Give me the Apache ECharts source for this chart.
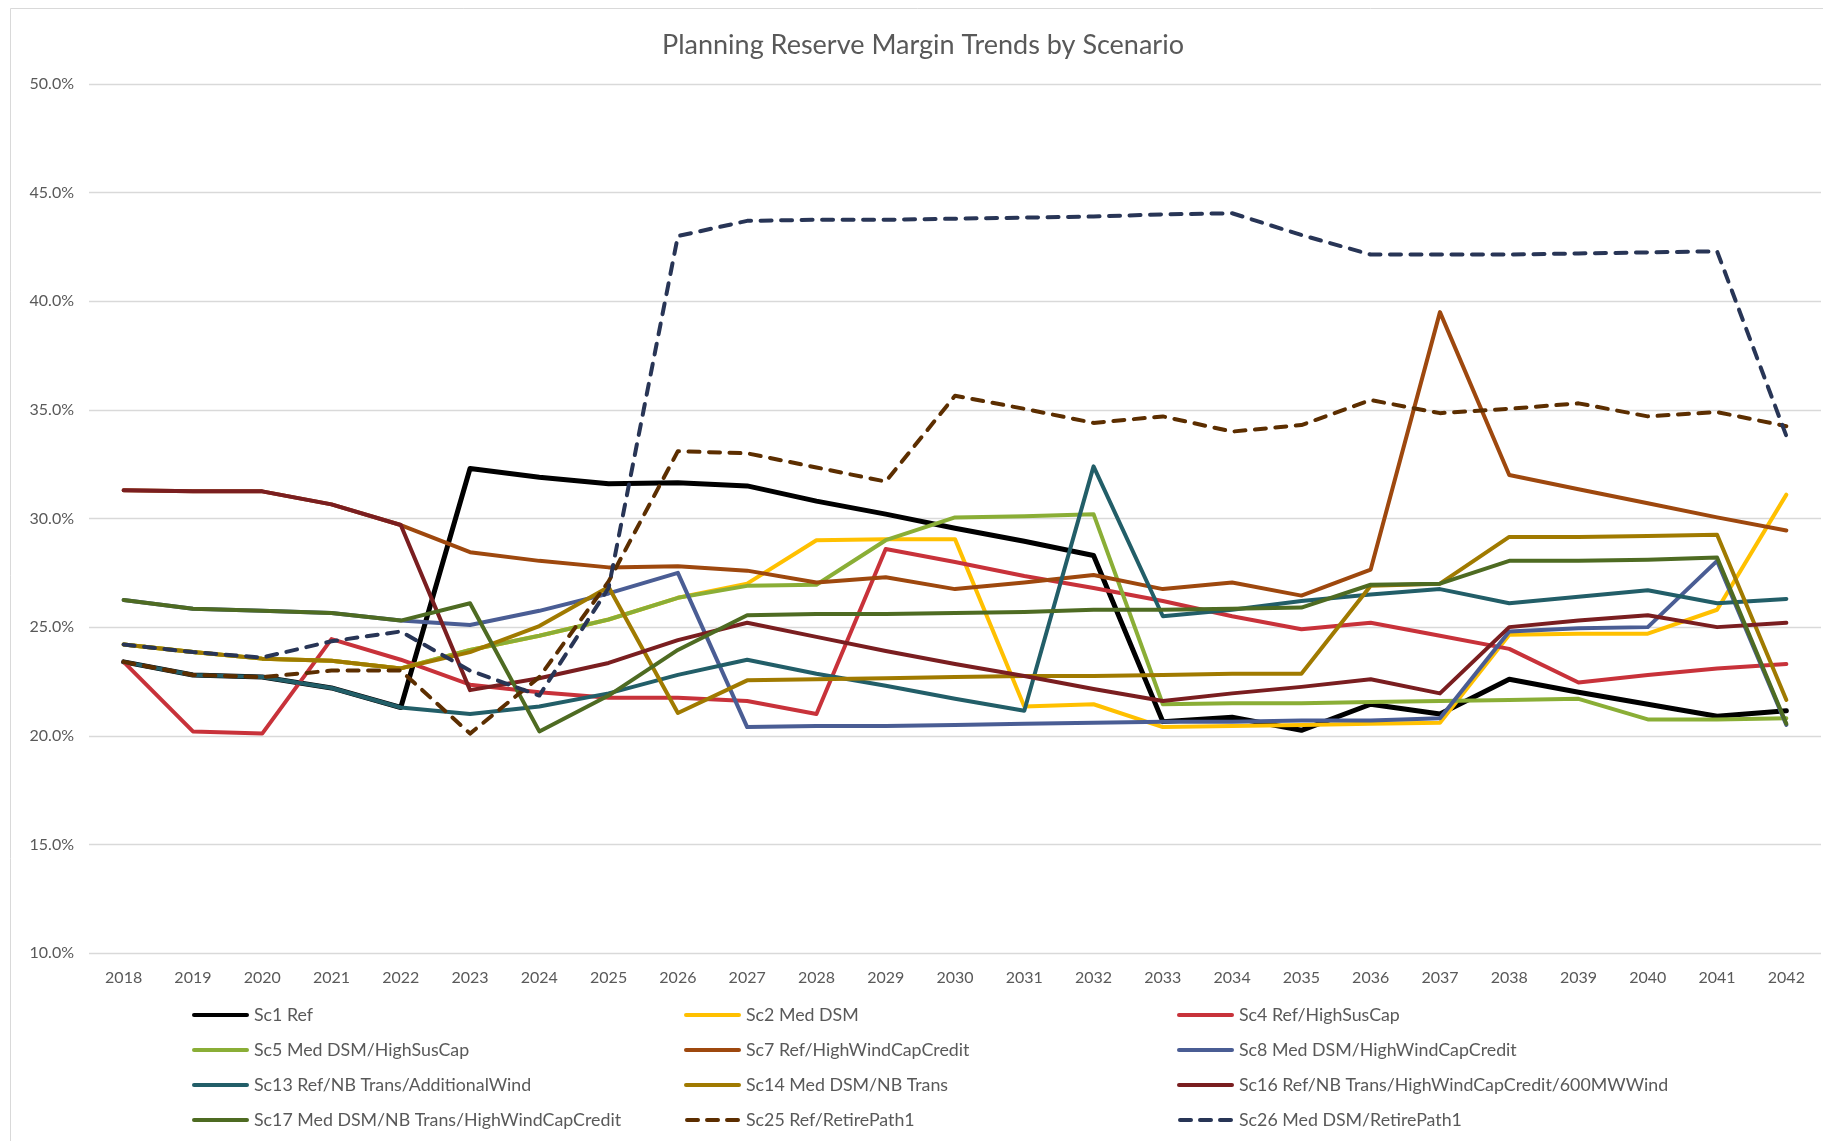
<!DOCTYPE html>
<html>
<head>
<meta charset="utf-8">
<title>Planning Reserve Margin Trends by Scenario</title>
<script src="https://cdn.jsdelivr.net/npm/echarts@6/dist/echarts.min.js"></script>
<style>
  html, body { margin: 0; padding: 0; background: #fff; }
  #chart { width: 1823px; height: 1141px; }
</style>
</head>
<body>
<div id="chart"></div>
<script>
// years on the x axis
const years = ['2018', '2019', '2020', '2021', '2022', '2023', '2024', '2025', '2026', '2027', '2028', '2029', '2030',
  '2031', '2032', '2033', '2034', '2035', '2036', '2037', '2038', '2039', '2040', '2041', '2042'];

// reserve margin, %
const sc1 = [23.4, 22.8, 22.7, 22.2, 21.3, 32.3, 31.9, 31.6, 31.65, 31.5, 30.8, 30.2, 29.55, 28.95, 28.3, 20.65, 20.85, 20.25, 21.45, 21.0, 22.6, 22.0, 21.45, 20.9, 21.15];
const sc2 = [24.2, 23.85, 23.55, 23.45, 23.1, 23.95, 24.6, 25.35, 26.35, 27.0, 29.0, 29.05, 29.05, 21.35, 21.45, 20.4, 20.45, 20.5, 20.55, 20.6, 24.65, 24.7, 24.7, 25.8, 31.1];
const sc4 = [23.4, 20.2, 20.1, 24.45, 23.5, 22.35, 22.0, 21.75, 21.75, 21.6, 21.0, 28.6, 28.0, 27.35, 26.8, 26.2, 25.5, 24.9, 25.2, 24.6, 24.0, 22.45, 22.8, 23.1, 23.3];
const sc5 = [24.2, 23.85, 23.55, 23.45, 23.1, 23.95, 24.6, 25.35, 26.35, 26.9, 26.95, 29.0, 30.05, 30.1, 30.2, 21.45, 21.5, 21.5, 21.55, 21.6, 21.65, 21.7, 20.75, 20.75, 20.8];
const sc7 = [31.3, 31.25, 31.25, 30.65, 29.7, 28.45, 28.05, 27.75, 27.8, 27.6, 27.05, 27.3, 26.75, 27.05, 27.4, 26.75, 27.05, 26.45, 27.65, 39.5, 32.0, 31.35, 30.7, 30.05, 29.45];
const sc8 = [26.25, 25.85, 25.75, 25.65, 25.3, 25.1, 25.75, 26.55, 27.5, 20.4, 20.45, 20.45, 20.5, 20.55, 20.6, 20.65, 20.65, 20.7, 20.7, 20.8, 24.8, 24.95, 25.0, 28.05, 20.5];
const sc13 = [23.4, 22.8, 22.7, 22.2, 21.3, 21.0, 21.35, 21.95, 22.8, 23.5, 22.85, 22.3, 21.7, 21.15, 32.4, 25.5, 25.8, 26.2, 26.5, 26.75, 26.1, 26.4, 26.7, 26.1, 26.3];
const sc14 = [24.2, 23.85, 23.55, 23.45, 23.1, 23.85, 25.05, 26.85, 21.05, 22.55, 22.6, 22.65, 22.7, 22.75, 22.75, 22.8, 22.85, 22.85, 26.9, 27.0, 29.15, 29.15, 29.2, 29.25, 21.65];
const sc16 = [31.3, 31.25, 31.25, 30.65, 29.7, 22.1, 22.65, 23.35, 24.4, 25.2, 24.55, 23.9, 23.3, 22.75, 22.15, 21.6, 21.95, 22.25, 22.6, 21.95, 25.0, 25.3, 25.55, 25.0, 25.2];
const sc17 = [26.25, 25.85, 25.75, 25.65, 25.3, 26.1, 20.2, 21.85, 23.95, 25.55, 25.6, 25.6, 25.65, 25.7, 25.8, 25.8, 25.85, 25.9, 26.95, 27.0, 28.05, 28.05, 28.1, 28.2, 20.55];
const sc25 = [23.4, 22.8, 22.7, 23.0, 23.0, 20.1, 22.7, 27.1, 33.1, 33.0, 32.35, 31.7, 35.65, 35.05, 34.4, 34.7, 34.0, 34.3, 35.45, 34.85, 35.05, 35.3, 34.7, 34.9, 34.25];
const sc26 = [24.2, 23.85, 23.6, 24.35, 24.8, 23.0, 21.85, 26.8, 43.0, 43.7, 43.75, 43.75, 43.8, 43.85, 43.9, 44.0, 44.05, 43.05, 42.15, 42.15, 42.15, 42.2, 42.25, 42.3, 33.8];

const names = ['Sc1 Ref', 'Sc2 Med DSM', 'Sc4 Ref/HighSusCap', 'Sc5 Med DSM/HighSusCap', 'Sc7 Ref/HighWindCapCredit',
  'Sc8 Med DSM/HighWindCapCredit', 'Sc13 Ref/NB Trans/AdditionalWind', 'Sc14 Med DSM/NB Trans',
  'Sc16 Ref/NB Trans/HighWindCapCredit/600MWWind', 'Sc17 Med DSM/NB Trans/HighWindCapCredit',
  'Sc25 Ref/RetirePath1', 'Sc26 Med DSM/RetirePath1'];
const values = [sc1, sc2, sc4, sc5, sc7, sc8, sc13, sc14, sc16, sc17, sc25, sc26];
const colors = ['#000000', '#FFC000', '#C8323A', '#8AAE36', '#9E480E', '#4A5D94', '#225E68', '#A07A00',
  '#7A1E20', '#4E6B22', '#5C2E00', '#283556'];
const dashed = [false, false, false, false, false, false, false, false, false, false, true, true];

const textColor = '#595959';
const fontFam = 'Lato, "Open Sans", sans-serif';

// legend icons: a bar for solid lines, three dashes for dashed ones
const solidIcon = 'path://M2,0H55A2,2 0 0 1 55,4H2A2,2 0 0 1 2,0Z';
const dashIcon = 'path://M2,0H13A2,2 0 0 1 13,4H2A2,2 0 0 1 2,0Z M22,0H33A2,2 0 0 1 33,4H22A2,2 0 0 1 22,0Z M42,0H53A2,2 0 0 1 53,4H42A2,2 0 0 1 42,0Z';

let chart = echarts.init(document.getElementById('chart'));

let series = names.map(function (n, i) {
  return {
    name: n,
    type: 'line',
    data: values[i],
    symbol: 'none',
    smooth: false,
    lineStyle: {
      color: colors[i],
      width: i === 0 ? 5 : 4,
      type: dashed[i] ? [11, 9.5] : 'solid',
      join: 'round',
      cap: 'round'
    },
    itemStyle: { color: colors[i] }
  };
});

// legend in three columns, four rows
function legendCol(left, idx) {
  return {
    orient: 'vertical',
    left: left,
    top: 1000,
    itemWidth: 57,
    itemHeight: 4,
    itemGap: 15,
    selectedMode: false,
    textStyle: { color: textColor, fontSize: 17.8, fontFamily: fontFam, lineHeight: 20 },
    data: idx.map(function (i) {
      return { name: names[i], icon: dashed[i] ? dashIcon : solidIcon };
    })
  };
}

chart.setOption({
  animation: false,
  backgroundColor: '#fff',
  title: {
    text: 'Planning Reserve Margin Trends by Scenario',
    left: 918,
    top: 27,
    textAlign: 'center',
    textStyle: { color: textColor, fontSize: 27, fontWeight: 'normal', fontFamily: fontFam }
  },
  graphic: [{
    type: 'rect',
    shape: { x: 10.5, y: 8.5, width: 1900, height: 1300 },
    style: { fill: 'none', stroke: '#D9D9D9', lineWidth: 1 },
    silent: true
  }],
  legend: [
    legendCol(187, [0, 3, 6, 9]),
    legendCol(679, [1, 4, 7, 10]),
    legendCol(1172, [2, 5, 8, 11])
  ],
  grid: { left: 89, right: 2, top: 84, bottom: 188, containLabel: false },
  xAxis: {
    type: 'category',
    data: years,
    boundaryGap: true,
    axisLine: { show: false },
    axisTick: { show: false },
    axisLabel: { color: textColor, fontSize: 16, fontFamily: fontFam, margin: 17 }
  },
  yAxis: {
    type: 'value',
    min: 10,
    max: 50,
    interval: 5,
    axisLine: { show: false },
    axisTick: { show: false },
    axisLabel: {
      color: textColor, fontSize: 16, fontFamily: fontFam, margin: 15,
      formatter: function (v) { return v.toFixed(1) + '%'; }
    },
    splitLine: { lineStyle: { color: '#D9D9D9', width: 1.3 } }
  },
  series: series
});
</script>
</body>
</html>
